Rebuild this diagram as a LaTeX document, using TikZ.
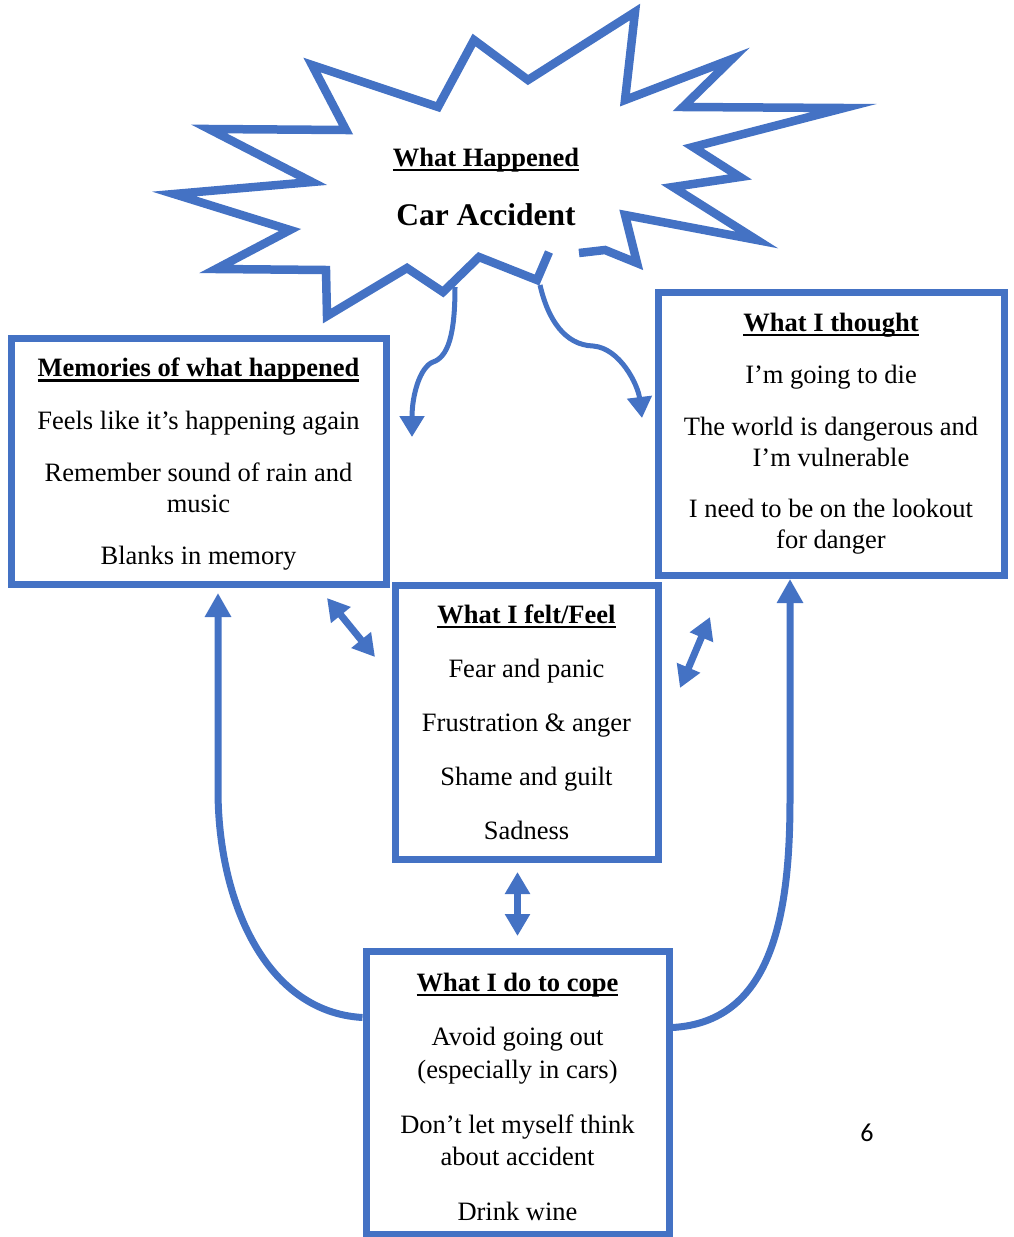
\documentclass[tikz,border=0pt]{standalone}
\usepackage{fontspec}
\setmainfont{Liberation Serif}
\newfontfamily\pagefont{Carlito}
\usepackage{tikz}
\usetikzlibrary{arrows.meta}
\definecolor{wordblue}{HTML}{4472C4}
\newsavebox{\titlebox}
\newcommand{\boxtitle}[1]{\sbox{\titlebox}{\textbf{#1}}\rlap{\rule[-5pt]{\wd\titlebox}{2.5pt}}\usebox{\titlebox}}

\begin{document}
\begin{tikzpicture}[x=1pt,y=-1pt,
        box/.style={draw=wordblue,line width=7pt,align=center,inner sep=0pt,
            font=\fontsize{26.5}{30.5}\selectfont},
        burstline/.style={draw=wordblue,line width=8.5pt,line join=miter},
        feed/.style={draw=wordblue,line width=5pt,-{Triangle[length=21pt,width=24pt]}},
        loopback/.style={draw=wordblue,line width=7pt,-{Triangle[length=24pt,width=25pt]}},
        twoway/.style={draw=wordblue,line width=7pt,
            {Triangle[length=22pt,width=24pt]}-{Triangle[length=22pt,width=24pt]}}]
                            \useasboundingbox (0,0) rectangle (1013,1237);
                            % the starburst
                            \draw [burstline] (549,252) -- (537,280) -- (479,257) -- (443,292) -- (407,268)
                                -- (327,316) -- (326,270) -- (216,269) -- (290,230) -- (174,194)
                                -- (312,182) -- (209,129) -- (346,130) -- (312,65) -- (438,107)
                                -- (474,40) -- (528,80) -- (635,12) -- (625,100) -- (732,59)
                                -- (683,107) -- (844,108) -- (693,147) -- (740,177) -- (673,187)
                                -- (757,240) -- (625,215) -- (637,263) -- (605,250) -- (579,253);
                            \node [anchor=base,font=\fontsize{26.5}{30.5}\selectfont] (happened) at (486,166) {\boxtitle{What Happened}};
                            \node [anchor=base,font=\fontsize{31.5}{36}\selectfont\bfseries] (accident) at (486,225) {Car Accident};
                            % the four boxes
                            \node [box,minimum width=375pt,minimum height=246pt] (memories) at (198.5,461)
                                {\rule{0pt}{25.5pt}\boxtitle{Memories of what happened}\\[22pt]
                                 Feels like it’s happening again\\[22pt]
                                 Remember sound of rain and\\music\\[22pt]
                                 Blanks in memory};
                            \node [box,minimum width=346pt,minimum height=283pt] (thought) at (831,433.5)
                                {\boxtitle{What I thought}\\[21.5pt]
                                 I’m going to die\\[22pt]
                                 The world is dangerous and\\I’m vulnerable\\[21pt]
                                 I need to be on the lookout\\for danger};
                            \node [box,minimum width=263pt,minimum height=274pt] (felt) at (526.5,722)
                                {\boxtitle{What I felt/Feel}\\[23.5pt]
                                 Fear and panic\\[23.5pt]
                                 Frustration \& anger\\[23.5pt]
                                 Shame and guilt\\[23.5pt]
                                 Sadness};
                            \node [box,minimum width=303pt,minimum height=283pt,
                                font=\fontsize{26.5}{32.5}\selectfont] (cope) at (517.5,1092.5)
                                {\rule{0pt}{27.5pt}\boxtitle{What I do to cope}\\[22pt]
                                 Avoid going out\\(especially in cars)\\[22.5pt]
                                 Don’t let myself think\\about accident\\[22.5pt]
                                 Drink wine};
                            \node [font=\pagefont\fontsize{26}{30}\selectfont] (pagenum) at (867,1133) {6};
                            % arrows out of the starburst
                            \coordinate (leftout) at (455,287);
                            \coordinate (leftbend) at (433,362);
                            \coordinate (leftend) at (412,437);
                            \coordinate (rightout) at (540,285);
                            \coordinate (rightbend) at (593,346);
                            \coordinate (rightend) at (642,418);
                            \draw [feed] (leftout) .. controls (455,335) and (448,357) .. (leftbend)
                                .. controls (420,367) and (412,395) .. (leftend);
                            \draw [feed] (rightout) .. controls (548,320) and (565,345) .. (rightbend)
                                .. controls (620,348) and (638,385) .. (rightend);
                            % two way arrows round the middle box
                            \coordinate (mf1) at (327,598);
                            \coordinate (mf2) at (375,657);
                            \coordinate (tf1) at (710,617);
                            \coordinate (tf2) at (680,688);
                            \coordinate (fc1) at (517.5,872);
                            \coordinate (fc2) at (517.5,936);
                            \foreach \s/\e in {mf1/mf2,tf1/tf2,fc1/fc2}
                            {
                                \draw [twoway] (\s) -- (\e);
                            }
                            % loops from coping back up
                            \coordinate (memin) at (218,593);
                            \coordinate (thoin) at (790,579);
                            \draw [loopback] ([yshift=75pt]cope.west) .. controls (265,1012) and (218,900) .. (218,790) -- (memin);
                            \draw [loopback] ([yshift=65pt]cope.east) .. controls (770,1022) and (790,920) .. (790,800) -- (thoin);
                        \end{tikzpicture}
\end{document}
